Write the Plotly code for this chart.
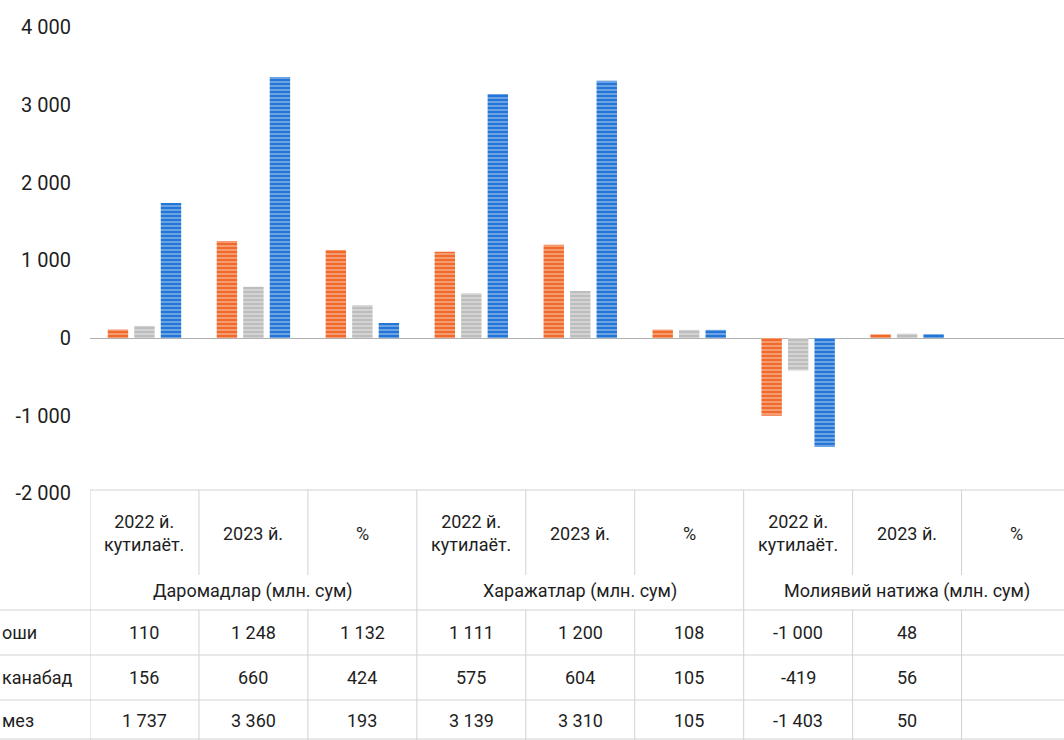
import plotly.graph_objects as go

# ---- data ----
categories = ["2022 й.<br>кутилаёт.", "2023 й.", "%",
              "2022 й.<br>кутилаёт.", "2023 й.", "%",
              "2022 й.<br>кутилаёт.", "2023 й.", "%"]
groups = ["Даромадлар (млн. сум)", "Харажатлар (млн. сум)", "Молиявий натижа (млн. сум)"]
row_labels = ["оши", "канабад", "мез"]
s1 = [110, 1248, 1132, 1111, 1200, 108, -1000, 48, None]
s2 = [156, 660, 424, 575, 604, 105, -419, 56, None]
s3 = [1737, 3360, 193, 3139, 3310, 105, -1403, 50, None]
tick_vals = [4000, 3000, 2000, 1000, 0, -1000, -2000]
tick_text = ["4 000", "3 000", "2 000", "1 000", "0", "-1 000", "-2 000"]

colors = ["#F06A2C", "#BDBDBD", "#2476D6"]
series = [s1, s2, s3]

W, H = 1064, 740
FONT = "Liberation Sans Narrow, Roboto, Arial Narrow, sans-serif"
TXT = "#1e1e1e"
LINE = "#d2d2d2"


def py(p):
    return 1 - p / H


def fmt(v):
    if v is None:
        return ""
    s = f"{abs(v):,}".replace(",", " ")
    return ("-" if v < 0 else "") + s


x = list(range(len(categories)))
fig = go.Figure()
for vals, col in zip(series, colors):
    fig.add_trace(go.Bar(
        x=x, y=vals,
        marker=dict(color=col, line=dict(width=0),
                    pattern=dict(shape="-", fgcolor="white", fgopacity=0.55,
                                 size=4, solidity=0.3, fillmode="overlay")),
        hoverinfo="skip", showlegend=False))

# zero is at pixel 338, 1000 units = 77.7 px
unit = 77.7 / 1000
y_top = 338 / unit
y_bot = -(H - 338) / unit

shapes = []
annotations = []
L = dict(color=LINE, width=1)
n = len(categories)
# horizontal lines
for p in [490]:
    shapes.append(dict(type="line", xref="x", yref="paper", x0=-0.5, x1=n - 0.5,
                       y0=py(p), y1=py(p), line=L))
for p in [610, 655, 700, 739]:
    shapes.append(dict(type="line", xref="paper", yref="paper", x0=-90 / (W - 90), x1=1,
                       y0=py(p), y1=py(p), line=L))
# vertical lines header row and data rows
for b in range(n + 1):
    xb = b - 0.5
    shapes.append(dict(type="line", xref="x", yref="paper", x0=xb, x1=xb,
                       y0=py(490), y1=py(575), line=L))
    shapes.append(dict(type="line", xref="x", yref="paper", x0=xb, x1=xb,
                       y0=py(610), y1=py(740), line=L))
for b in [0, 3, 6, 9]:
    xb = b - 0.5
    shapes.append(dict(type="line", xref="x", yref="paper", x0=xb, x1=xb,
                       y0=py(575), y1=py(610), line=L))

F = dict(size=18, color=TXT, family=FONT)
# header text
for i, c in enumerate(categories):
    annotations.append(dict(x=i, y=py(533), xref="x", yref="paper", text=c,
                            xanchor="center", yanchor="middle",
                            showarrow=False, font=F, align="center"))
for g, label in enumerate(groups):
    annotations.append(dict(x=3 * g + 1, y=py(591), xref="x", yref="paper", text=label,
                            xanchor="center", yanchor="middle",
                            showarrow=False, font=F))
row_y = [632, 677, 720]
for r, (label, vals) in enumerate(zip(row_labels, series)):
    annotations.append(dict(x=0, y=py(row_y[r]), xref="paper", yref="paper", text=label,
                            xanchor="left", yanchor="middle", xshift=-90,
                            showarrow=False, font=F))
    for i, v in enumerate(vals):
        if v is None:
            continue
        annotations.append(dict(x=i, y=py(row_y[r]), xref="x", yref="paper", text=fmt(v),
                                xanchor="center", yanchor="middle",
                                showarrow=False, font=F))

fig.update_layout(
    width=W, height=H,
    margin=dict(l=90, r=0, t=0, b=0),
    paper_bgcolor="white", plot_bgcolor="white",
    barmode="group", bargap=0.27, bargroupgap=0.23,
    xaxis=dict(range=[-0.5, 8.44], showticklabels=False, showgrid=False,
               zeroline=False, showline=False, fixedrange=True),
    yaxis=dict(range=[y_bot, y_top], tickvals=tick_vals, ticktext=tick_text,
               showgrid=False, zeroline=True, zerolinecolor="#b0b0b0", zerolinewidth=1,
               showline=False, ticks="", ticklabelstandoff=18, fixedrange=True,
               tickfont=dict(size=20, color=TXT, family=FONT)),
    shapes=shapes, annotations=annotations,
)

fig.write_html("out.html", config={"displayModeBar": False},
               post_script="document.body.style.margin='0';document.body.style.overflow='hidden';")
